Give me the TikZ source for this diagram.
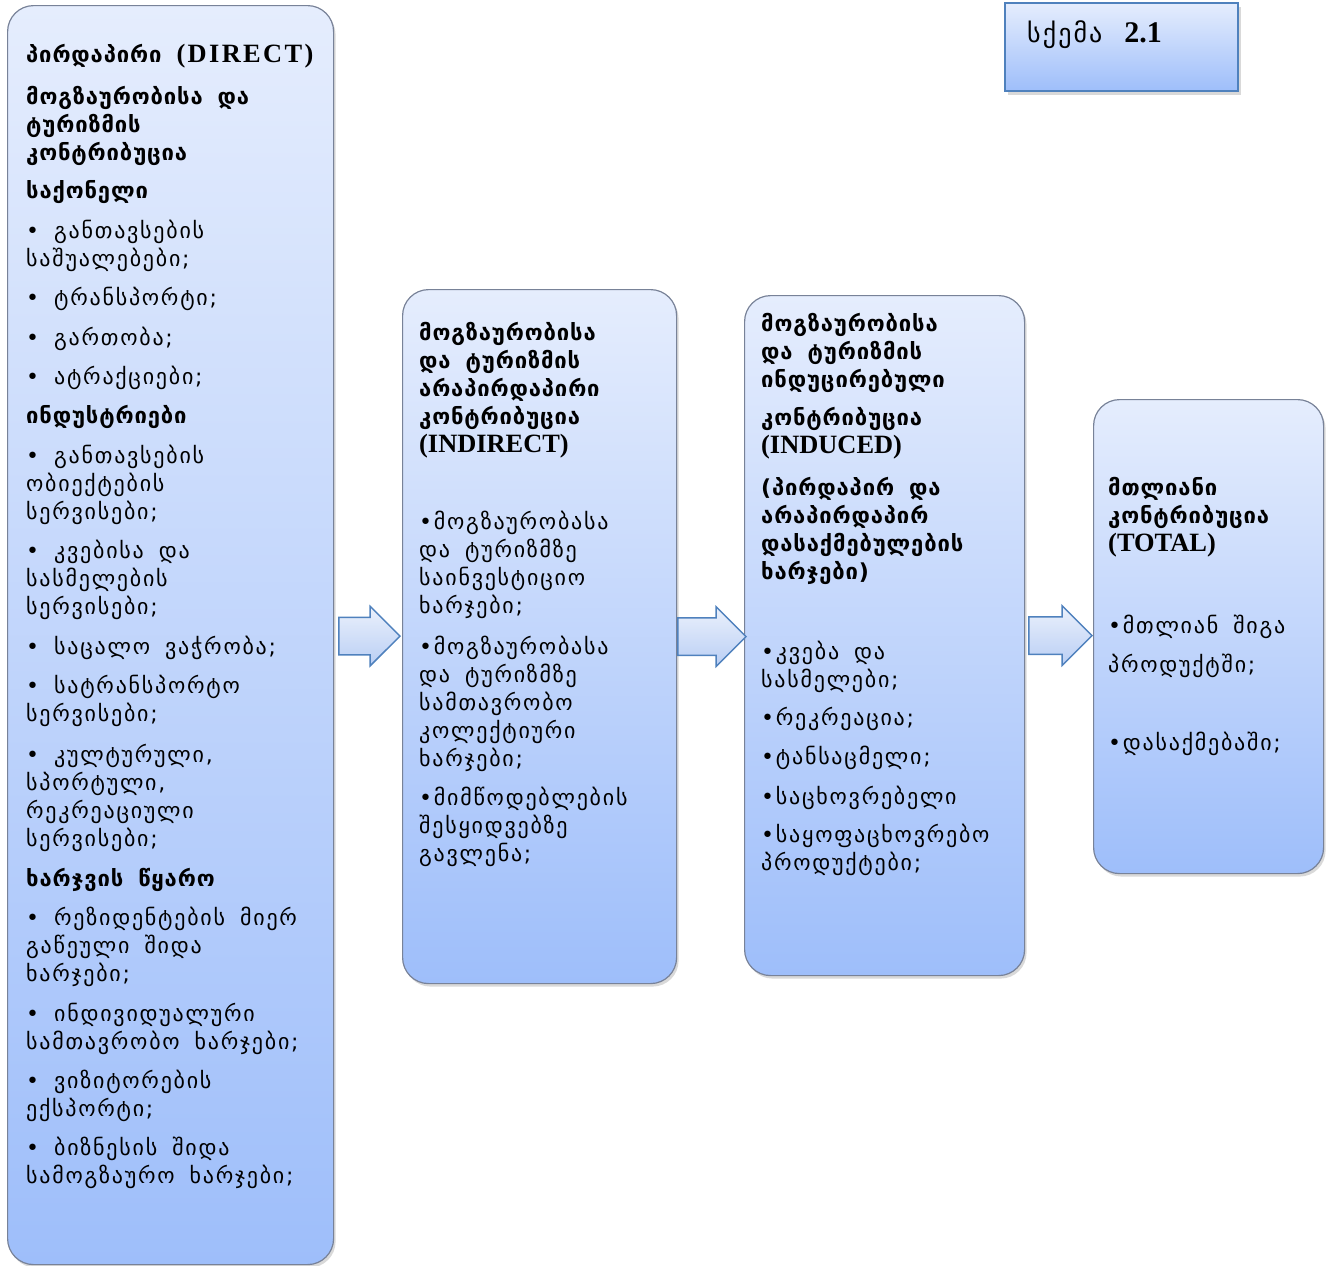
\documentclass[tikz,border=0pt]{standalone}
\usepackage{fontspec}
\setmainfont{DejaVu Sans}[LetterSpace=8,BoldFeatures={LetterSpace=4}]
\newfontfamily\lat{Liberation Serif}[Scale=1.2]
\newfontfamily\latwide{Liberation Serif}[Scale=1.2,LetterSpace=9]
\usetikzlibrary{calc,shadows,shapes.arrows}

\definecolor{boxtop}{RGB}{229,237,253}
\definecolor{boxbot}{RGB}{158,190,250}
\definecolor{boxline}{RGB}{120,130,152}
\definecolor{arrline}{RGB}{79,129,189}
\definecolor{arrtop}{RGB}{235,241,252}
\definecolor{arrbot}{RGB}{185,206,244}

\newcommand\geo{\fontsize{22}{28}\selectfont\spaceskip=15pt plus 2pt}
\newcommand\hd[1]{\textbf{#1}}

\tikzset{
  stagebox/.style={draw=boxline,line width=1.2pt,rounded corners=26pt,
    top color=boxtop,bottom color=boxbot,anchor=north west,inner sep=0pt,
    drop shadow={opacity=0.3,shadow xshift=2pt,shadow yshift=-3pt}},
  titlebox/.style={draw=arrline,line width=2pt,
    top color=boxtop,bottom color=boxbot,anchor=north west,inner sep=0pt,
    drop shadow={opacity=0.3,shadow xshift=3pt,shadow yshift=-4pt}},
  bodytext/.style={anchor=north west,align=left,inner sep=0pt,font=\geo},
  blockarr/.style={single arrow,draw=arrline,line width=1.5pt,anchor=tail,
    top color=arrtop,bottom color=arrbot,inner xsep=0pt,inner ysep=18pt,
    single arrow head extend=11pt,minimum width=58pt}
}

\begin{document}
\begin{tikzpicture}[x=1pt,y=-1pt]
  \useasboundingbox (0,0) rectangle (1331,1266);

  % the four stages
  \node[stagebox,minimum width=326pt,minimum height=1259pt] (b1) at (7,5) {};
  \node[stagebox,minimum width=274pt,minimum height=694pt]  (b2) at (402,289) {};
  \node[stagebox,minimum width=280pt,minimum height=680pt]  (b3) at (744,295) {};
  \node[stagebox,minimum width=230pt,minimum height=474pt]  (b4) at (1093,399) {};

  % block arrows between the stages
  \node[blockarr,minimum height=61pt] (a12) at ($(b1.east)+(4,1)$) {};
  \node[blockarr,minimum height=68pt] (a23) at ($(b2.east)+(0,0)$) {};
  \node[blockarr,minimum height=63pt] (a34) at ($(b3.east)+(3,0)$) {};

  % title
  \node[titlebox,minimum width=233pt,minimum height=88pt] (ttl) at (1004,2) {};
  \node[anchor=west,inner sep=0pt,font=\fontsize{26}{30}\selectfont] (ttltext)
    at ($(ttl.west)+(23,-12)$) {სქემა\hspace{22pt}{\lat\bfseries\fontsize{25}{30}\selectfont 2.1}};

  \node[bodytext] (t1) at (26,42) {\rule{0pt}{20pt}\hd{პირდაპირი {\latwide(DIRECT)}}\\[14pt]
    \hd{მოგზაურობისა და}\\ \hd{ტურიზმის}\\ \hd{კონტრიბუცია}\\[10pt]
    \hd{საქონელი}\\[12pt]
    • განთავსების\\ საშუალებები;\\[11pt]
    • ტრანსპორტი;\\[12pt]
    • გართობა;\\[11pt]
    • ატრაქციები;\\[11pt]
    \hd{ინდუსტრიები}\\[12pt]
    • განთავსების\\ ობიექტების\\ სერვისები;\\[11pt]
    • კვებისა და\\ სასმელების\\ სერვისები;\\[12pt]
    • საცალო ვაჭრობა;\\[11pt]
    • სატრანსპორტო\\ სერვისები;\\[13pt]
    • კულტურული,\\ სპორტული,\\ რეკრეაციული\\ სერვისები;\\[12pt]
    \hd{ხარჯვის წყარო}\\[11pt]
    • რეზიდენტების მიერ\\ გაწეული შიდა\\ ხარჯები;\\[12pt]
    • ინდივიდუალური\\ სამთავრობო ხარჯები;\\[11pt]
    • ვიზიტორების\\ ექსპორტი;\\[11pt]
    • ბიზნესის შიდა\\ სამოგზაურო ხარჯები;};

  \node[bodytext] (t2) at (419,320) {\rule{0pt}{20pt}\hd{მოგზაურობისა}\\ \hd{და ტურიზმის}\\
    \hd{არაპირდაპირი}\\ \hd{კონტრიბუცია}\\ \hd{\lat(INDIRECT)}\\[49pt]
    •მოგზაურობასა\\ და ტურიზმზე\\ საინვესტიციო\\ ხარჯები;\\[13pt]
    •მოგზაურობასა\\ და ტურიზმზე\\ სამთავრობო\\ კოლექტიური\\ ხარჯები;\\[11pt]
    •მიმწოდებლების\\ შესყიდვებზე\\ გავლენა;};

  \node[bodytext] (t3) at (761,311) {\rule{0pt}{20pt}\hd{მოგზაურობისა}\\ \hd{და ტურიზმის}\\
    \hd{ინდუცირებული}\\[10pt] \hd{კონტრიბუცია}\\ \hd{\lat(INDUCED)}\\[14pt]
    \hd{(პირდაპირ და}\\ \hd{არაპირდაპირ}\\ \hd{დასაქმებულების}\\ \hd{ხარჯები)}\\[52pt]
    •კვება და\\ სასმელები;\\[10pt]
    •რეკრეაცია;\\[11pt]
    •ტანსაცმელი;\\[12pt]
    •საცხოვრებელი\\[10pt]
    •საყოფაცხოვრებო\\ პროდუქტები;};

  \node[bodytext] (t4) at (1108,475) {\rule{0pt}{20pt}\hd{მთლიანი}\\ \hd{კონტრიბუცია}\\
    \hd{\lat(TOTAL)}\\[54pt]
    •მთლიან შიგა\\[11pt]
    პროდუქტში;\\[50pt]
    •დასაქმებაში;};
\end{tikzpicture}
\end{document}
